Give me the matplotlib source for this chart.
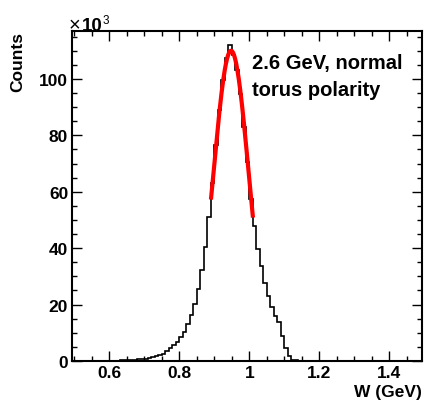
import matplotlib
matplotlib.use("Agg")
import matplotlib.pyplot as plt
from matplotlib.ticker import MultipleLocator, FuncFormatter
import numpy as np

plt.rcParams['font.family'] = ['Liberation Sans', 'DejaVu Sans']
plt.rcParams['font.weight'] = 'bold'

# ---- data (counts, in units of 1e3) ----
bin_lo = 0.49      # left edge of first bin (GeV)
bin_w = 0.01       # bin width (GeV)
counts_k = [
    0.0, 0.01, 0.01, 0.01, 0.02, 0.02, 0.03, 0.04, 0.05, 0.06,   # 0.49-0.58
    0.08, 0.10, 0.13, 0.16, 0.20, 0.25, 0.30, 0.37, 0.45, 0.55,  # 0.59-0.68
    0.70, 0.85, 1.05, 1.30, 1.60, 2.00, 2.60, 3.40, 4.50, 5.50,  # 0.69-0.78
    6.90, 8.40, 10.4, 13.2, 16.4, 20.3, 25.6, 32.1, 40.5, 51.1,  # 0.79-0.88
    63.0, 76.5, 89.0, 99.5, 107.5, 112.0, 108.5, 103.0, 94.5, 83.0,  # 0.89-0.98
    70.5, 57.5, 47.7, 39.7, 33.6, 27.5, 23.0, 19.2, 16.1, 14.0,  # 0.99-1.08
    9.0, 4.5, 1.9, 0.5, 0.2, 0.1, 0.05,                          # 1.09-1.15
] + [0.0] * 34                                                   # 1.16-1.49

# gaussian fit (red curve)
fit_amp = 110000.0
fit_mean = 0.9475
fit_sigma = 0.0503
fit_range = (0.89, 1.01)

x_ticks = [0.6, 0.8, 1.0, 1.2, 1.4]
y_ticks_k = [0, 20, 40, 60, 80, 100]

# ---- figure ----
W, H = 427, 402
fig = plt.figure(figsize=(W / 100, H / 100), dpi=100)
ax = fig.add_axes([72.3 / W, 1 - 362 / H, (421.7 - 72.3) / W, (362 - 32) / H])

counts = np.array(counts_k) * 1000
edges = bin_lo + bin_w * np.arange(len(counts) + 1)
ax.stairs(counts, edges, color='black', linewidth=1.2)

xf = np.linspace(fit_range[0], fit_range[1], 200)
yf = fit_amp * np.exp(-0.5 * ((xf - fit_mean) / fit_sigma) ** 2)
ax.plot(xf, yf, color='red', linewidth=3.0, solid_capstyle='butt')

ax.set_xlim(0.494, 1.492)
ax.set_ylim(0, 117000)

ax.set_xticks(x_ticks)
ax.set_xticklabels([f'{v:g}' for v in x_ticks])
ax.xaxis.set_minor_locator(MultipleLocator(0.05))
ax.set_yticks([v * 1000 for v in y_ticks_k])
ax.yaxis.set_major_formatter(FuncFormatter(lambda v, p: f'{v / 1000:.0f}'))
ax.yaxis.set_minor_locator(MultipleLocator(5000))

ax.tick_params(which='both', direction='in', top=True, right=True, width=1.0)
ax.tick_params(which='major', length=7.5)
ax.tick_params(which='minor', length=3.8)
ax.tick_params(axis='x', which='major', pad=3, labelsize=12.5)
ax.tick_params(axis='y', which='major', pad=3, labelsize=12.5)
for lab in ax.get_xticklabels() + ax.get_yticklabels():
    lab.set_fontweight('bold')
for s in ax.spines.values():
    s.set_linewidth(1.5)

# labels
fig.text(18 / W, 1 - 32 / H, 'Counts', rotation=90, ha='center', va='top',
         fontsize=12.5, fontweight='bold')
fig.text(421.7 / W, 1 - 397 / H, 'W (GeV)', ha='right', va='baseline',
         fontsize=12.5, fontweight='bold')
fig.text(69 / W, 1 - 31.5 / H, '\u00d7', ha='left', va='baseline',
         fontsize=14.5, fontweight='normal')
fig.text(81.5 / W, 1 - 31 / H, '10', ha='left', va='baseline',
         fontsize=13.5, fontweight='bold')
fig.text(103 / W, 1 - 24.5 / H, '3', ha='left', va='baseline',
         fontsize=8.5, fontweight='normal')

fig.text(252 / W, 1 - 68.5 / H, '2.6 GeV, normal', ha='left', va='baseline',
         fontsize=14.5, fontweight='bold')
fig.text(252 / W, 1 - 95.5 / H, 'torus polarity', ha='left', va='baseline',
         fontsize=14.5, fontweight='bold')

fig.savefig('out.png', dpi=100)
